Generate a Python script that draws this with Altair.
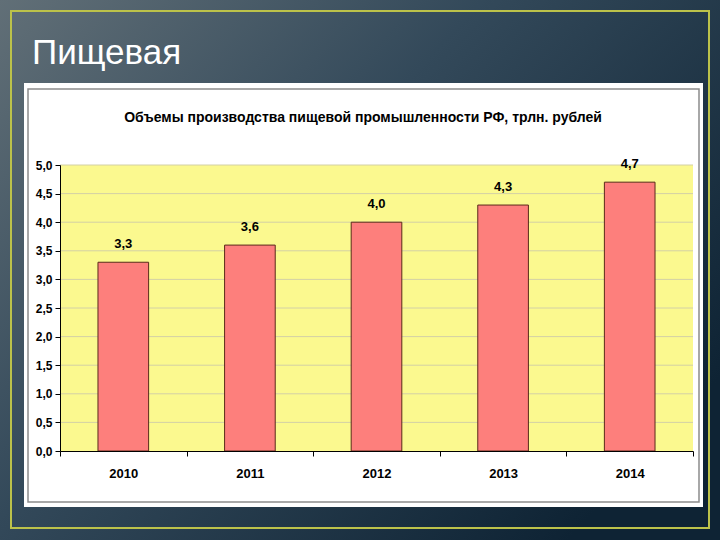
import altair as alt
import pandas as pd

years = ["2010", "2011", "2012", "2013", "2014"]
values = [3.3, 3.6, 4.0, 4.3, 4.7]
labels = ["3,3", "3,6", "4,0", "4,3", "4,7"]
y_ticks = [0.0, 0.5, 1.0, 1.5, 2.0, 2.5, 3.0, 3.5, 4.0, 4.5, 5.0]
slide_title = "Пищевая"
chart_title = "Объемы производства пищевой промышленности РФ, трлн. рублей"

BOLDFONT = "Liberation Sans, Arial, sans-serif"

df = pd.DataFrame({"year": years, "value": values, "label": labels})
grid_df = pd.DataFrame({"value": y_ticks[1:]})
one = pd.DataFrame({"k": [0]})

PW, PH = 633, 286
L, T = 60, 165

x_scale = alt.Scale(domain=years, paddingInner=0, paddingOuter=0)
y_scale = alt.Scale(domain=[0, 5])

y_axis = alt.Axis(
    values=y_ticks, tickCount=11, labelOverlap=False,
    labelExpr="replace(format(datum.value, '.1f'), '.', ',')",
    domainColor="#000000", tickColor="#000000", tickSize=5,
    labelFont=BOLDFONT, labelFontWeight="bold", labelFontSize=12,
    labelColor="#000000", labelPadding=3, zindex=1, grid=False,
)

def px(v):
    return v - L

def py(v):
    return v - T

bg = alt.Chart(one).mark_rect(
    color=alt.LinearGradient(
        gradient="linear",
        stops=[
            alt.GradientStop(offset=0, color="#616f77"),
            alt.GradientStop(offset=0.45, color="#33495a"),
            alt.GradientStop(offset=1, color="#0e2334"),
        ],
        x1=0, y1=0, x2=1, y2=0.7,
    )
).encode(x=alt.value(px(0)), x2=alt.value(px(720)), y=alt.value(py(0)), y2=alt.value(py(540)))

frame = alt.Chart(one).mark_rect(
    fillOpacity=0, stroke="#bcc24a", strokeWidth=2
).encode(x=alt.value(px(11)), x2=alt.value(px(709)), y=alt.value(py(11)), y2=alt.value(py(528)))

white = alt.Chart(one).mark_rect(color="#ffffff").encode(
    x=alt.value(px(24)), x2=alt.value(px(703)), y=alt.value(py(83)), y2=alt.value(py(507))
)

inner = alt.Chart(one).mark_rect(
    fillOpacity=0, stroke="#8c8c8c", strokeWidth=1.5
).encode(x=alt.value(px(28)), x2=alt.value(px(699)), y=alt.value(py(89)), y2=alt.value(py(502)))

plotbg = alt.Chart(one).mark_rect(color="#fbf98f").encode(
    x=alt.value(0), x2=alt.value(PW), y=alt.value(0), y2=alt.value(PH)
)

grid = alt.Chart(grid_df).mark_rule(color="#d3d0a6", strokeWidth=1).encode(
    y=alt.Y("value:Q", scale=y_scale, title=None, axis=y_axis)
)

bars = alt.Chart(df).mark_bar(
    width=alt.RelativeBandSize(0.4), color="#fd7f7c", stroke="#5a2a1a", strokeWidth=1
).encode(
    x=alt.X(
        "year:N", scale=x_scale, sort=years, title=None,
        axis=alt.Axis(
            tickBand="extent", labelAngle=0, domainColor="#000000", tickColor="#000000",
            tickSize=5, labelFont=BOLDFONT, labelFontWeight="bold", labelFontSize=13,
            labelColor="#000000", labelPadding=11, zindex=1, grid=False,
        ),
    ),
    y=alt.Y("value:Q", scale=y_scale, title=None, axis=y_axis),
)

bar_labels = alt.Chart(df).mark_text(
    font=BOLDFONT, fontWeight="bold", fontSize=13, color="#000000",
    baseline="middle", dy=-18,
).encode(
    x=alt.X("year:N", scale=x_scale, sort=years),
    y=alt.Y("value:Q", scale=y_scale),
    text="label:N",
)

title1 = alt.Chart(pd.DataFrame({"t": [slide_title]})).mark_text(
    font="Liberation Sans, Arial, sans-serif", fontSize=35, color="#ffffff",
    align="left", baseline="alphabetic",
).encode(x=alt.value(px(32)), y=alt.value(py(64)), text="t:N")

title2 = alt.Chart(pd.DataFrame({"t": [chart_title]})).mark_text(
    font=BOLDFONT, fontWeight="bold", fontSize=14, color="#000000",
    align="center", baseline="alphabetic",
).encode(x=alt.value(px(363)), y=alt.value(py(122)), text="t:N")

chart = alt.layer(
    bg, frame, white, inner, plotbg, grid, bars, bar_labels, title1, title2
).properties(
    width=PW, height=PH,
    autosize=alt.AutoSizeParams(type="none"),
    padding={"left": L, "top": T, "right": 720 - L - PW, "bottom": 540 - T - PH},
).configure_view(stroke=None).configure(background="#1c3344")

chart.save("out.html", embed_options={"renderer": "svg", "actions": False})
